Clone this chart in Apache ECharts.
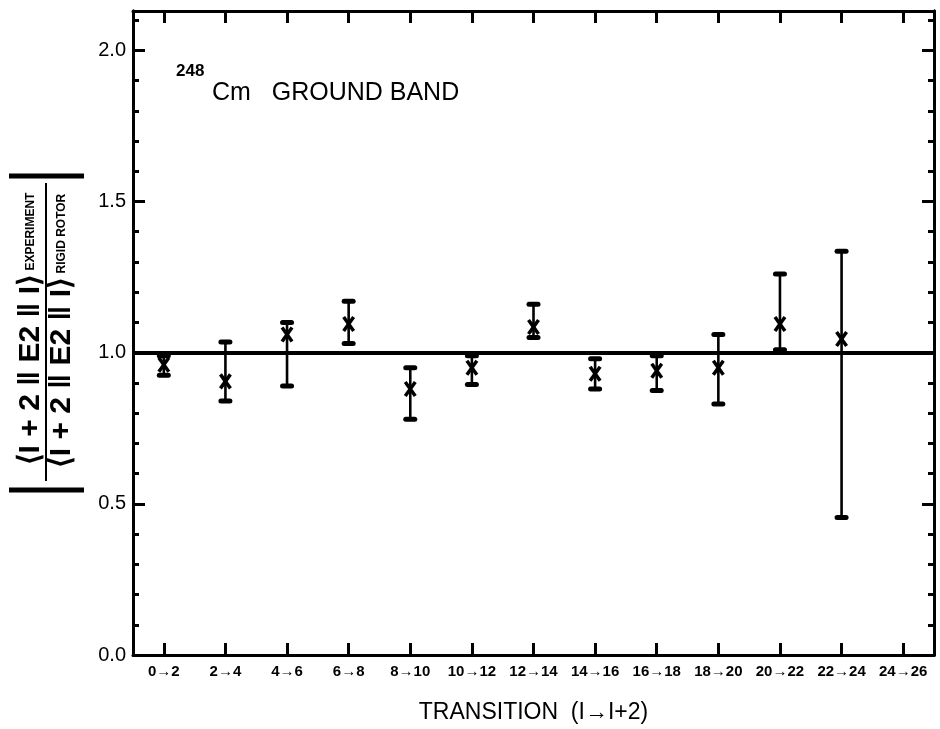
<!DOCTYPE html>
<html>
<head>
<meta charset="utf-8">
<script src="https://cdn.jsdelivr.net/npm/echarts@6/dist/echarts.min.js"></script>
<style>
html,body{margin:0;padding:0;background:#fff;}
#chart{width:940px;height:729px;}
</style>
</head>
<body>
<div id="chart"></div>
<script>
// ---- data ----
const categories = ['0→2','2→4','4→6','6→8','8→10','10→12','12→14','14→16','16→18','18→20','20→22','22→24','24→26'];
const ratio = [0.96, 0.905, 1.06, 1.095, 0.88, 0.95, 1.085, 0.93, 0.94, 0.95, 1.095, 1.045];
const lower = [0.925, 0.84, 0.89, 1.03, 0.78, 0.895, 1.05, 0.88, 0.875, 0.83, 1.01, 0.455];
const upper = [0.99, 1.035, 1.10, 1.17, 0.95, 0.99, 1.16, 0.98, 0.99, 1.06, 1.26, 1.335];
const yMajorTicks = [0.0, 0.5, 1.0, 1.5, 2.0];
const referenceLevel = 1.0;

const FONT = 'Liberation Sans';
const chart = echarts.init(document.getElementById('chart'), null, {renderer: 'canvas'});

const points = ratio.map((v, i) => [i, lower[i], upper[i], v]);

function renderItem(params, api) {
  const i = api.value(0);
  const lo = api.coord([i, api.value(1)]);
  const hi = api.coord([i, api.value(2)]);
  const c = api.coord([i, api.value(3)]);
  const st = {stroke: '#000', lineWidth: 2.6};
  const capW = 14, capH = 5;
  return {
    type: 'group',
    children: [
      {type: 'line', shape: {x1: hi[0], y1: hi[1], x2: lo[0], y2: lo[1]}, style: st},
      {type: 'rect', shape: {x: hi[0] - capW / 2, y: hi[1] - capH / 2, width: capW, height: capH, r: 2.5}, style: {fill: '#000'}},
      {type: 'rect', shape: {x: lo[0] - capW / 2, y: lo[1] - capH / 2, width: capW, height: capH, r: 2.5}, style: {fill: '#000'}},
      {type: 'line', shape: {x1: c[0] - 5, y1: c[1] - 7, x2: c[0] + 5, y2: c[1] + 7}, style: {stroke: '#000', lineWidth: 3.5}},
      {type: 'line', shape: {x1: c[0] + 5, y1: c[1] - 7, x2: c[0] - 5, y2: c[1] + 7}, style: {stroke: '#000', lineWidth: 3.5}}
    ]
  };
}

const majorFmt = v => (yMajorTicks.some(t => Math.abs(t - v) < 1e-6) ? v.toFixed(1) : '');

const xBase = {
  type: 'category',
  data: categories,
  boundaryGap: true,
  axisLine: {onZero: false, lineStyle: {color: '#000', width: 3}},
  axisTick: {show: true, inside: true, alignWithLabel: true, interval: 0, length: 12, lineStyle: {color: '#000', width: 3}},
  splitLine: {show: false}
};
const yBase = {
  type: 'value', min: 0, max: 2.13,
  axisLine: {onZero: false, show: true, lineStyle: {color: '#000', width: 3}},
  splitLine: {show: false}
};

const richFrac = {a: {fontSize: 30, fontWeight: 'bold', fontFamily: FONT}, b: {fontSize: 12, fontWeight: 'bold', fontFamily: FONT}};

chart.setOption({
  animation: false,
  backgroundColor: '#fff',
  grid: {left: 133, right: 6, top: 11, bottom: 67, containLabel: false},
  xAxis: [
    Object.assign({}, xBase, {
      position: 'bottom',
      axisLabel: {color: '#000', fontSize: 15, fontWeight: 'bold', fontFamily: FONT, margin: 9, interval: 0},
      name: 'TRANSITION  (I→I+2)',
      nameLocation: 'middle',
      nameGap: 46,
      nameTextStyle: {color: '#000', fontSize: 23, fontFamily: FONT}
    }),
    Object.assign({}, xBase, {position: 'top', axisLabel: {show: false}})
  ],
  yAxis: [
    Object.assign({}, yBase, {
      position: 'left', interval: 0.5,
      axisTick: {show: true, inside: true, length: 12, lineStyle: {color: '#000', width: 3}},
      axisLabel: {color: '#000', fontSize: 20, fontFamily: FONT, margin: 7, formatter: majorFmt}
    }),
    Object.assign({}, yBase, {
      position: 'left', interval: 0.1,
      axisTick: {show: true, inside: true, length: 6, lineStyle: {color: '#000', width: 3}},
      axisLabel: {show: false}
    }),
    Object.assign({}, yBase, {
      position: 'right', interval: 0.5,
      axisTick: {show: true, inside: true, length: 12, lineStyle: {color: '#000', width: 3}},
      axisLabel: {show: false}
    }),
    Object.assign({}, yBase, {
      position: 'right', interval: 0.1,
      axisTick: {show: true, inside: true, length: 6, lineStyle: {color: '#000', width: 3}},
      axisLabel: {show: false}
    })
  ],
  series: [{
    type: 'custom',
    xAxisIndex: 0,
    yAxisIndex: 0,
    renderItem: renderItem,
    encode: {x: 0, y: [1, 2, 3]},
    data: points,
    clip: false,
    markLine: {
      silent: true,
      symbol: ['none', 'none'],
      label: {show: false},
      lineStyle: {color: '#000', width: 4, type: 'solid'},
      data: [{yAxis: referenceLevel}]
    }
  }],
  graphic: [
    {type: 'text', left: 176, top: 63, style: {text: '248', font: 'bold 17px "Liberation Sans"', fill: '#000'}},
    {type: 'text', left: 212, top: 81, style: {text: 'Cm   GROUND BAND', font: '25px "Liberation Sans"', fill: '#000'}},
    {
      type: 'group',
      x: 46, y: 333,
      rotation: Math.PI / 2,
      children: [
        {type: 'text', x: 4, y: -15, style: {
          text: '{a|⟨I + 2 ‖ E2 ‖ I⟩} {b|EXPERIMENT}',
          align: 'center', verticalAlign: 'middle', fill: '#000', rich: richFrac
        }},
        {type: 'text', x: 2, y: 16, style: {
          text: '{a|⟨I + 2 ‖ E2 ‖ I⟩} {b|RIGID ROTOR}',
          align: 'center', verticalAlign: 'middle', fill: '#000', rich: richFrac
        }},
        {type: 'line', shape: {x1: -148, y1: 0, x2: 150, y2: 0}, style: {stroke: '#000', lineWidth: 2}},
        {type: 'line', shape: {x1: -157, y1: -37, x2: -157, y2: 38}, style: {stroke: '#000', lineWidth: 5}},
        {type: 'line', shape: {x1: 157, y1: -37, x2: 157, y2: 38}, style: {stroke: '#000', lineWidth: 5}}
      ]
    }
  ]
});
</script>
</body>
</html>
